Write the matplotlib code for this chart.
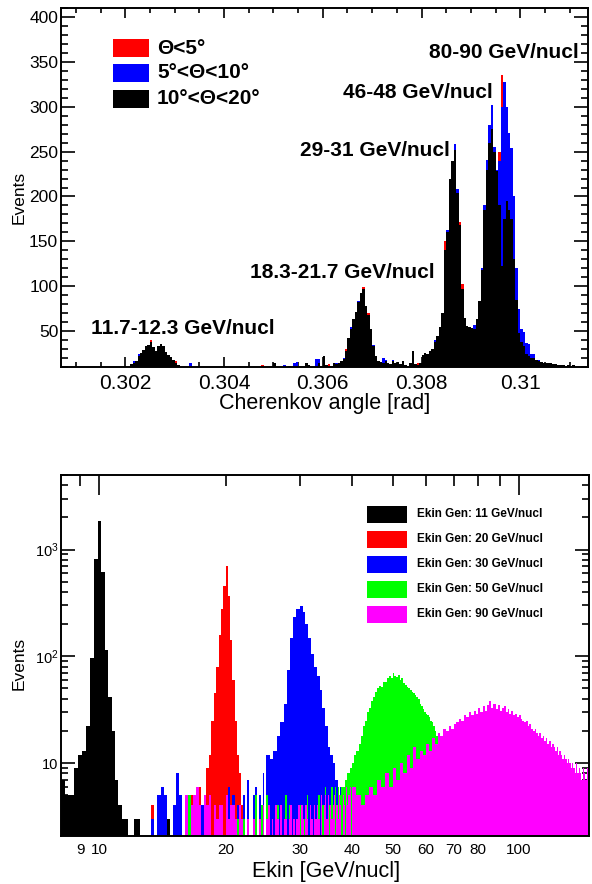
import numpy as np
import matplotlib
matplotlib.use("Agg")
import matplotlib.pyplot as plt
from matplotlib.ticker import MultipleLocator, FixedLocator, FixedFormatter, NullFormatter
from matplotlib.patches import Rectangle

plt.rcParams['font.family'] = ['Liberation Sans', 'DejaVu Sans']

# ---------------- top panel data: Cherenkov angle histograms ----------------
angle_first_edge = 0.3021
angle_bin_width = 0.00005
angle_xlim = (0.3007, 0.31137)
angle_ylim = (10, 410)

counts_red = [
    12, 14, 16, 21, 25, 28, 32, 34, 40, 31, 27, 32, 35, 32, 26, 22, 20, 17, 17, 11,
    0, 0, 0, 0, 0, 0, 0, 0, 0, 0,
    0, 0, 0, 0, 0, 0, 0, 0, 0, 0,
    0, 0, 0, 0, 11, 0, 0, 0, 0, 0,
    0, 0, 0, 12, 0, 0, 0, 0, 14, 0,
    0, 0, 0, 0, 0, 0, 0, 0, 0, 0,
    0, 14, 11, 0, 0, 0, 13, 0, 20, 11,
    13, 10, 14, 12,
    13, 16, 18, 30, 41, 51, 62, 70, 81, 91, 99, 77, 70, 50, 32, 21, 16,
    15, 13, 16, 14, 12, 16, 14, 15, 12, 16, 11, 10, 13, 27, 12, 15, 13, 22, 25, 24,
    27, 29, 37, 44, 54, 69, 150, 158, 215, 236, 248, 200, 172, 102, 62, 54, 53, 52, 50, 62, 83, 117, 183,
    228, 258, 272, 248, 225, 250, 335, 180, 170, 170, 160, 125, 80, 46,
    36, 31, 24, 21, 19, 19, 17, 16, 15, 14, 13, 13, 13, 12, 12, 11, 11, 11, 10, 11, 10, 11, 0, 0, 0, 0,
]
counts_blue = [
    12, 17, 16, 24, 25, 27, 31, 34, 36, 30, 27, 31, 35, 31, 26, 22, 20, 17, 14, 11,
    0, 0, 0, 0, 14, 0, 0, 0, 0, 0,
    0, 0, 0, 0, 0, 0, 0, 0, 0, 0,
    0, 0, 0, 0, 0, 0, 0, 0, 0, 0,
    0, 0, 0, 0, 0, 0, 0, 0, 13, 0,
    0, 0, 12, 0, 0, 0, 14, 16, 0, 0,
    0, 12, 0, 0, 0, 19, 19, 0, 18, 0,
    0, 0, 12, 14,
    13, 16, 20, 27, 40, 55, 62, 70, 84, 90, 95, 76, 66, 50, 35, 21, 16,
    15, 20, 18, 14, 12, 18, 14, 15, 12, 16, 11, 10, 13, 26, 12, 11, 13, 22, 25, 24,
    27, 29, 40, 44, 54, 68, 135, 163, 218, 238, 259, 208, 165, 96, 63, 55, 53, 53, 57, 63, 82, 120, 190,
    241, 280, 302, 255, 230, 240, 300, 327, 300, 271, 254, 200, 120, 75,
    52, 49, 37, 36, 25, 24, 18, 18, 15, 14, 13, 13, 13, 12, 12, 12, 11, 11, 11, 10, 11, 11, 0, 0, 0, 0,
]
counts_black = [
    13, 15, 17, 22, 26, 29, 33, 35, 38, 32, 28, 33, 36, 33, 27, 23, 21, 18, 15, 12,
    0, 0, 0, 0, 0, 0, 0, 0, 0, 0,
    0, 0, 0, 0, 0, 0, 0, 0, 0, 0,
    0, 0, 0, 0, 0, 0, 0, 0, 0, 0,
    0, 0, 0, 0, 0, 0, 0, 0, 15, 0,
    0, 0, 0, 0, 11, 0, 0, 0, 0, 0,
    0, 15, 12, 0, 0, 0, 14, 0, 22, 12,
    0, 11, 15, 13,
    14, 17, 19, 28, 42, 52, 63, 71, 82, 92, 97, 78, 68, 52, 33, 22, 17,
    16, 14, 17, 15, 13, 17, 15, 16, 13, 17, 12, 11, 14, 28, 13, 12, 14, 23, 26, 25,
    28, 30, 38, 45, 55, 70, 140, 160, 220, 240, 252, 204, 168, 97, 65, 56, 55, 54, 52, 64, 84, 118, 185,
    230, 260, 275, 250, 228, 190, 122, 175, 195, 185, 175, 130, 85, 48,
    38, 33, 25, 22, 20, 20, 18, 17, 16, 15, 14, 14, 14, 13, 13, 12, 12, 12, 11, 12, 11, 12, 0, 10, 0, 0,
]
top_series_labels = ["\u0398<5\u00b0", "5\u00b0<\u0398<10\u00b0", "10\u00b0<\u0398<20\u00b0"]
top_series_colors = ["#ff0000", "#0000ff", "#000000"]
peak_labels = ["11.7-12.3 GeV/nucl", "18.3-21.7 GeV/nucl", "29-31 GeV/nucl",
               "46-48 GeV/nucl", "80-90 GeV/nucl"]

# ---------------- bottom panel data: Ekin histograms ----------------
# each series: a finely binned low-energy part followed by a coarser part
ekin_black_first, ekin_black_width = 8.1, 0.2
ekin_black = [7, 5, 5, 9, 12, 13, 22, 96, 818, 1845, 612, 115, 42, 20, 7, 4, 3, 3, 0, 0,
              3, 3, 0, 0, 0, 0, 0, 0, 0, 0, 0, 0, 3]

ekin_red_first, ekin_red_width = 13.0, 0.25
ekin_red = [0, 4, 0, 0, 0, 0, 0, 0, 0, 0, 0, 0, 0, 0, 5, 0, 0, 6, 0, 4,
            9, 12, 25, 45, 80, 160, 280, 452, 697, 364, 143, 60, 25, 12, 8, 4, 4]

ekin_blue_low_first, ekin_blue_low_width = 13.0, 0.25
ekin_blue_low = [0, 3, 0, 5,  6, 5, 0, 0,  4, 8, 5, 0,  4, 0, 3, 0,
                 5, 0, 4, 0,  0, 3, 0, 4,  0, 3, 0, 0,  4, 6, 0, 5,
                 0, 4, 0, 0,  5, 0, 7, 0,  0, 5, 6, 0,  5, 0, 8, 0]
ekin_blue_high_width = 0.5
ekin_blue_high = [12, 11, 13, 18, 24, 36, 75, 150, 235, 280, 294, 260, 200, 150, 105, 80,
                  65, 48, 33, 22, 14, 12, 10, 7, 5, 6, 4, 3, 3, 0]

ekin_green_low_first, ekin_green_low_width = 15.0, 0.25
ekin_green_low = [0, 0, 0, 0,  0, 5, 0, 0,  4, 0, 0, 0,  0, 4, 0, 0,  0, 0, 3, 0,
                  0, 0, 0, 4,  0, 3, 0, 0,  3, 0, 0, 0,  0, 0, 5, 0,  0, 4, 0, 0,
                  5, 0, 0, 3,  0, 0, 4, 0,  3, 0, 0, 5,  0, 4, 0, 0,  0, 0, 3, 4,
                  4, 0, 0, 3,  0, 5, 0, 4,  3, 0, 4, 0,  0, 5, 0, 4,  4, 0, 6, 0,
                  5, 4, 0, 6,  0, 5, 6, 4,  6, 0, 5, 6]
ekin_green_high_width = 0.5
ekin_green_high = [6, 7, 8, 9, 10, 12, 13, 15, 18, 22, 25, 30, 33, 38, 42, 46,
                   50, 53, 52, 57, 58, 62, 66, 63, 70, 66, 64, 67, 60, 63, 56, 54,
                   52, 50, 48, 46, 45, 43, 42, 40, 36, 34, 32, 30, 29, 28, 27, 25,
                   24, 22, 20, 18, 16, 15, 13, 11, 10, 9, 8, 7, 6, 6, 5, 4]

ekin_magenta_low_first, ekin_magenta_low_width = 15.0, 0.25
ekin_magenta_low = [0, 0, 0, 0,  5, 0, 4, 5,  6, 4, 0, 5,  4, 5, 0, 4,  3, 4, 4, 0,
                    5, 3, 4, 4,  3, 0, 4, 3,  0, 0, 3, 0,  0, 3, 0, 0,  3, 0, 4, 0,
                    3, 4, 0, 3,  0, 4, 3, 0,  4, 0, 3, 3,  0, 3, 4, 0,  3, 0, 3, 4,
                    0, 4, 3, 0,  4, 3, 0, 4,  3, 0, 4, 3,  4, 3, 0, 5,  0, 4, 5, 3,
                    5, 0, 4, 3,  4, 5, 0, 4,  3, 5, 4, 0,  5, 4, 0, 6,  4, 5, 6, 0]
ekin_magenta_high_width = 1.0
ekin_magenta_high = [6, 5, 4, 5, 6, 5, 7, 6, 8, 6,
                     9, 7, 10, 8, 12, 9, 14, 11, 13, 12,
                     15, 13, 17, 15, 19, 18, 21, 20, 22, 21,
                     23, 24, 26, 25, 28, 27, 30, 28, 31, 29,
                     33, 30, 34, 31, 35, 38, 33, 36, 32, 35,
                     31, 33, 34, 30, 32, 29, 31, 28, 29, 27,
                     28, 26, 25, 24, 25, 22, 23, 21, 20, 21,
                     19, 18, 19, 17, 18, 16, 17, 15, 16, 14,
                     15, 14, 13, 14, 12, 13, 12, 11, 12, 11,
                     10, 11, 10, 9, 10, 9, 8, 10, 8, 9,
                     8, 7, 9, 8, 7, 9, 8]

ekin_labels = ["Ekin Gen: 11 GeV/nucl", "Ekin Gen: 20 GeV/nucl", "Ekin Gen: 30 GeV/nucl",
               "Ekin Gen: 50 GeV/nucl", "Ekin Gen: 90 GeV/nucl"]
ekin_colors = ["#000000", "#ff0000", "#0000ff", "#00ff00", "#ff00ff"]
ekin_xlim = (8.1, 147)
ekin_ylim = (2.07, 5000)
ekin_major = [10, 100]
ekin_minor = [9, 20, 30, 40, 50, 60, 70, 80, 90]
ekin_minor_labels = ["9", "20", "30", "40", "50", "60", "70", "80", ""]

W, H = 592, 884
PT = 72 / 100.0  # px -> pt


def fx(x):
    return x / W


def fy(y):
    return 1 - y / H


def uniform_edges(first, width, n):
    return first + width * np.arange(n + 1)


def two_part(low, low_first, low_width, high, high_width):
    e_low = uniform_edges(low_first, low_width, len(low))
    e_high = uniform_edges(e_low[-1], high_width, len(high))
    return np.concatenate([low, high]).astype(float), np.concatenate([e_low, e_high[1:]])


fig = plt.figure(figsize=(W / 100, H / 100), dpi=100)

# ================= top panel =================
ax1 = fig.add_axes([fx(61), fy(367), 527 / W, 359 / H])
for vals, col in zip([counts_red, counts_blue, counts_black], top_series_colors):
    v = np.asarray(vals, dtype=float)
    ax1.stairs(v, uniform_edges(angle_first_edge, angle_bin_width, len(v)),
               fill=True, color=col, linewidth=0, baseline=0)
ax1.set_xlim(*angle_xlim)
ax1.set_ylim(*angle_ylim)
ax1.set_axisbelow(True)
ax1.xaxis.set_major_locator(FixedLocator([0.302, 0.304, 0.306, 0.308, 0.310]))
ax1.xaxis.set_major_formatter(FixedFormatter(["0.302", "0.304", "0.306", "0.308", "0.31"]))
ax1.xaxis.set_minor_locator(MultipleLocator(0.0005))
ax1.yaxis.set_major_locator(MultipleLocator(50))
ax1.yaxis.set_minor_locator(MultipleLocator(10))
ax1.tick_params(axis='both', which='both', direction='in', top=True, right=True, width=1.2)
ax1.tick_params(axis='x', which='major', length=10 * PT, labelsize=15, pad=5)
ax1.tick_params(axis='x', which='minor', length=5 * PT)
ax1.tick_params(axis='y', which='major', length=14 * PT, labelsize=12.5, pad=2)
ax1.tick_params(axis='y', which='minor', length=7 * PT)
for s in ax1.spines.values():
    s.set_linewidth(1.4)
ax1.set_xlabel("Cherenkov angle [rad]", fontsize=15.5)
ax1.xaxis.set_label_coords((325 - 61) / 527, (367 - 403) / 359)
ax1.xaxis.label.set_va('center')
ax1.set_ylabel("Events", fontsize=12.5)
ax1.yaxis.set_label_coords((19 - 61) / 527, (367 - 197) / 359)
ax1.yaxis.label.set_va('center')

leg_rows_y = [48, 73, 99]
for lab, col, yc in zip(top_series_labels, top_series_colors, leg_rows_y):
    fig.patches.append(Rectangle((fx(113), fy(yc + 8.5)), 36 / W, 17 / H,
                                 transform=fig.transFigure, facecolor=col,
                                 edgecolor='none', figure=fig))
    fig.text(fx(157), fy(yc), lab, fontsize=15, fontweight='bold',
             ha='left', va='center')

peak_pos = [(90.7, 328), (250, 272), (300, 150), (343.3, 93), (429.3, 53)]
for lab, (px, py) in zip(peak_labels, peak_pos):
    fig.text(fx(px), fy(py), lab, fontsize=15, fontweight='bold', ha='left', va='center')

# ================= bottom panel =================
ax2 = fig.add_axes([fx(61), fy(836), 528 / W, 361 / H])
ax2.set_xscale('log')
ax2.set_yscale('log')

hist_black = (np.asarray(ekin_black, float),
              uniform_edges(ekin_black_first, ekin_black_width, len(ekin_black)))
hist_red = (np.asarray(ekin_red, float),
            uniform_edges(ekin_red_first, ekin_red_width, len(ekin_red)))
hist_blue = two_part(ekin_blue_low, ekin_blue_low_first, ekin_blue_low_width,
                     ekin_blue_high, ekin_blue_high_width)
hist_green = two_part(ekin_green_low, ekin_green_low_first, ekin_green_low_width,
                      ekin_green_high, ekin_green_high_width)
hist_magenta = two_part(ekin_magenta_low, ekin_magenta_low_first, ekin_magenta_low_width,
                        ekin_magenta_high, ekin_magenta_high_width)

for (v, edges), col in zip([hist_black, hist_red, hist_blue, hist_green, hist_magenta],
                           ekin_colors):
    vplot = np.where(v > 0, v, 0.1)
    ax2.stairs(vplot, edges, fill=True, color=col, linewidth=0, baseline=0.1)
ax2.set_xlim(*ekin_xlim)
ax2.set_ylim(*ekin_ylim)
ax2.set_axisbelow(True)
ax2.xaxis.set_major_locator(FixedLocator(ekin_major))
ax2.xaxis.set_major_formatter(FixedFormatter(["10", "100"]))
ax2.xaxis.set_minor_locator(FixedLocator(ekin_minor))
ax2.xaxis.set_minor_formatter(FixedFormatter(ekin_minor_labels))
ax2.yaxis.set_major_locator(FixedLocator([10, 100, 1000]))
ax2.yaxis.set_major_formatter(FixedFormatter(["10", r"$\mathregular{10^{2}}$", r"$\mathregular{10^{3}}$"]))
ax2.yaxis.set_minor_locator(FixedLocator([m * d for d in (1, 10, 100, 1000) for m in range(2, 10)]))
ax2.yaxis.set_minor_formatter(NullFormatter())
ax2.tick_params(axis='both', which='both', direction='in', top=True, right=True, width=1.2)
ax2.tick_params(axis='x', which='major', length=20 * PT, labelsize=11, pad=5)
ax2.tick_params(axis='x', which='minor', length=11 * PT, labelsize=11, pad=5)
ax2.tick_params(axis='y', which='major', length=14 * PT, labelsize=10.5, pad=2)
ax2.tick_params(axis='y', which='minor', length=7 * PT)
for s in ax2.spines.values():
    s.set_linewidth(1.4)
ax2.set_xlabel("Ekin [GeV/nucl]", fontsize=15.5)
ax2.xaxis.set_label_coords((326 - 61) / 528, (836 - 872) / 361)
ax2.xaxis.label.set_va('center')
ax2.set_ylabel("Events", fontsize=12.5)
ax2.yaxis.set_label_coords((19 - 61) / 528, (836 - 663) / 361)
ax2.yaxis.label.set_va('center')

leg2_rows_y = [514.3, 539.3, 564.3, 589, 614]
for lab, col, yc in zip(ekin_labels, ekin_colors, leg2_rows_y):
    fig.patches.append(Rectangle((fx(367.3), fy(yc + 8.5)), 40 / W, 17 / H,
                                 transform=fig.transFigure, facecolor=col,
                                 edgecolor='none', figure=fig))
    fig.text(fx(416.7), fy(yc), lab, fontsize=8.5, fontweight='bold',
             ha='left', va='center')

fig.savefig("out.png", dpi=100)
